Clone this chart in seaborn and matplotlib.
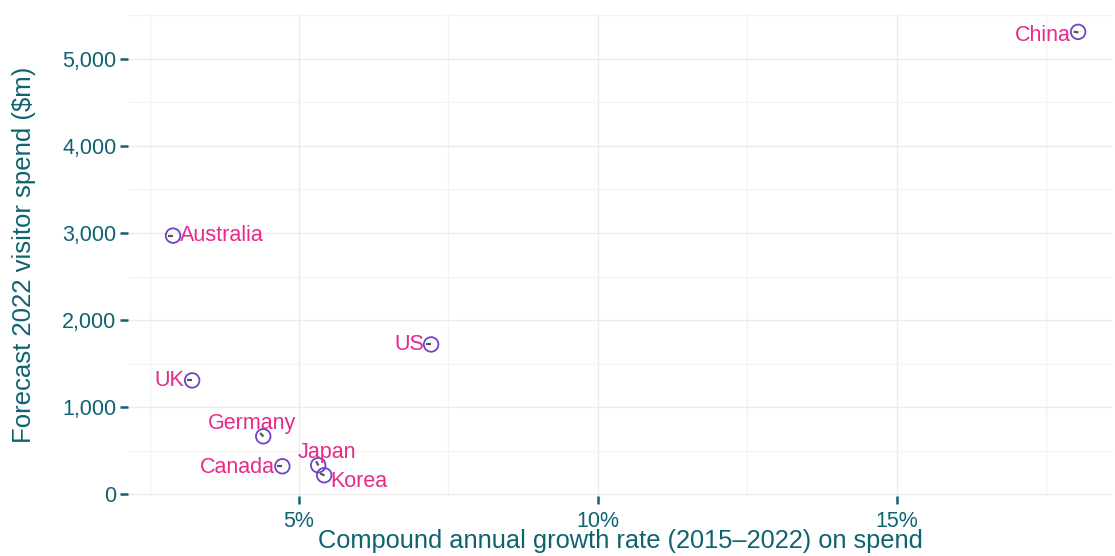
import numpy as np
import pandas as pd
import seaborn as sns
import matplotlib.pyplot as plt
from matplotlib.path import Path
from matplotlib.markers import MarkerStyle
from matplotlib.ticker import FuncFormatter, MultipleLocator

# Visitor spend by market
countries = ['Australia', 'UK', 'Germany', 'Canada', 'Japan', 'Korea', 'US', 'China']
cagr = [2.89, 3.21, 4.40, 4.72, 5.32, 5.42, 7.21, 18.04]          # % per year
spend_2022 = [2970, 1307, 665, 321, 333, 218, 1720, 5310]         # $m
spoke_angle = [180, 180, 135, 180, 120, 155, 180, 170]             # degrees

data = pd.DataFrame({'Country': countries, 'CAGR': cagr,
                     'Spend': spend_2022, 'Angle': spoke_angle})

# label offsets (pixels) and alignment, repel-style
label_pos = {
    'Australia': (7, 0, 'left'),
    'UK': (-8, 0, 'right'),
    'Germany': (-11, 13, 'center'),
    'Canada': (-7, -1, 'right'),
    'Japan': (9, 13, 'center'),
    'Korea': (6, -6, 'left'),
    'US': (-7, 0, 'right'),
    'China': (-7, -4, 'right'),
}

teal = '#0e6370'
purple = '#7043c4'
magenta = '#e7298a'

sns.set_theme(style='whitegrid')
plt.rcParams['font.family'] = ['Liberation Sans', 'DejaVu Sans']

fig = plt.figure(figsize=(11.15, 5.56), dpi=100)
ax = fig.add_axes([0.115, 0.108, 0.883, 0.866])

sns.scatterplot(data=data, x='CAGR', y='Spend', ax=ax, s=110,
                facecolor='none', edgecolor=purple, linewidth=1.3, zorder=3)

# short spokes inside the circles
spoke = Path([(0, 0), (-1, 0)], [Path.MOVETO, Path.LINETO])
for _, r in data.iterrows():
    m = MarkerStyle(spoke)
    m._transform = m.get_transform().rotate_deg(r['Angle'] - 180)
    ax.plot(r['CAGR'], r['Spend'], marker=m, markersize=7, color='#555555',
            markeredgewidth=1.6, linestyle='none', zorder=4)

for _, r in data.iterrows():
    dx, dy, ha = label_pos[r['Country']]
    ax.annotate(r['Country'], (r['CAGR'], r['Spend']), xytext=(dx, dy),
                textcoords='offset pixels', ha=ha, va='center',
                color=magenta, fontsize=15.5, zorder=5)

ax.set_xlim(2.14, 18.62)
ax.set_ylim(-20, 5510)
ax.xaxis.set_major_locator(MultipleLocator(5))
ax.xaxis.set_minor_locator(MultipleLocator(2.5))
ax.yaxis.set_major_locator(MultipleLocator(1000))
ax.yaxis.set_minor_locator(MultipleLocator(500))
ax.xaxis.set_major_formatter(FuncFormatter(lambda v, p: f'{v:.0f}%'))
ax.yaxis.set_major_formatter(FuncFormatter(lambda v, p: f'{v:,.0f}'))

ax.grid(which='major', color='#ebebeb', linewidth=1.0)
ax.grid(which='minor', color='#f3f3f3', linewidth=0.9)
ax.set_facecolor('white')
for s in ax.spines.values():
    s.set_visible(False)

ax.tick_params(axis='both', which='major', direction='out', length=5.5, width=1.8,
               color=teal, labelcolor=teal, labelsize=15.5, bottom=True, left=True)
ax.tick_params(axis='x', pad=5)
ax.tick_params(axis='y', pad=3)
ax.tick_params(which='minor', length=0)

ax.set_xlabel('Compound annual growth rate (2015\u20132022) on spend',
              color=teal, fontsize=18.3, labelpad=-1.5)
ax.set_ylabel('Forecast 2022 visitor spend ($m)', color=teal, fontsize=18.5, labelpad=19)

fig.savefig('out.png', dpi=100)
